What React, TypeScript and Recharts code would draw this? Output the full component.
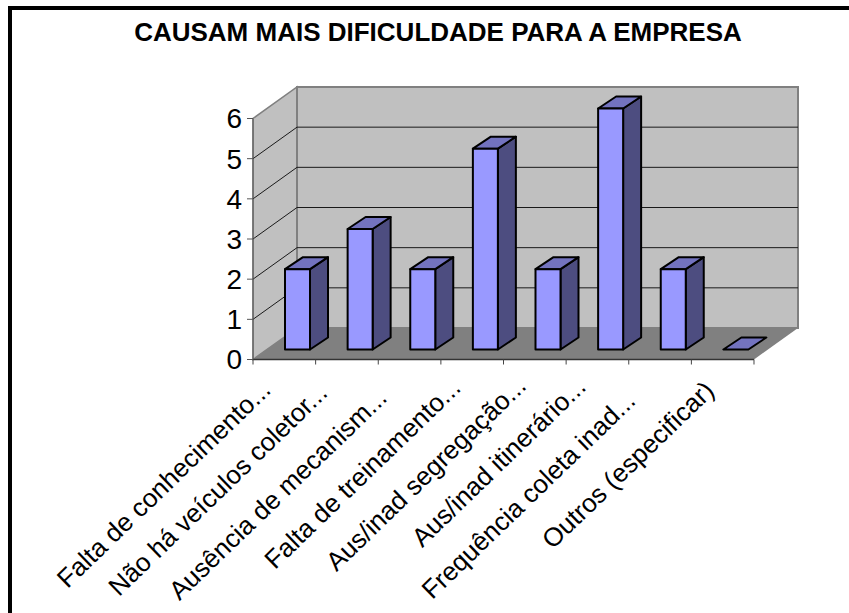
import React from 'react';
import { BarChart, Bar, XAxis, YAxis, CartesianGrid } from 'recharts';

const categories = [
  'Falta de conhecimento...',
  'Não há veículos coletor...',
  'Ausência de mecanism...',
  'Falta de treinamento...',
  'Aus/inad segregação...',
  'Aus/inad itinerário...',
  'Frequência coleta inad...',
  'Outros (especificar)',
];
const values = [2, 3, 2, 5, 2, 6, 2, 0];
const yTicks = [0, 1, 2, 3, 4, 5, 6];
const title = 'CAUSAM MAIS DIFICULDADE PARA A EMPRESA';

const rows = categories.map((name, i) => ({ name, value: values[i] }));

const W = 849, H = 613;
const DX = 44, DY = 31.5; // wall depth
const BDX = 18, BDY = 12; // bar depth
const SX = 13, SY = 10; // bar offset into the floor
const BAND = 62.6;
const TOP = 118.5, BOTTOM = 359.5;
// per-label placement tweaks, the source chart spaced its slanted labels unevenly
const labelShiftX = [-1, -7, -10, 1, 4, 1, -12, 4];
const labelShiftY = [3, 6, 11, 1, -1, 0, 14, 4];

function GridLine(props: any) {
  const { x1, x2, y1, index } = props;
  const l = x1, r = x2, t = TOP, b = BOTTOM;
  return (
    <g>
      {index === 0 && (
        <g>
          <polygon points={`${l},${b} ${l + DX},${b - DY} ${l + DX},${t - DY} ${l},${t}`} fill="#c0c0c0" stroke="#808080" strokeWidth={1.5} />
          <polygon points={`${l + DX},${b - DY} ${r + DX},${b - DY} ${r + DX},${t - DY} ${l + DX},${t - DY}`} fill="#c0c0c0" stroke="#808080" strokeWidth={2} />
          <polygon points={`${l},${b} ${r},${b} ${r + DX},${b - DY} ${l + DX},${b - DY}`} fill="#808080" />
        </g>
      )}
      {y1 < b - 2 && y1 > t + 2 && (
        <polyline points={`${l},${y1} ${l + DX},${y1 - DY} ${r + DX},${y1 - DY}`} fill="none" stroke="#1a1a1a" strokeWidth={1} />
      )}
    </g>
  );
}

function Box(props: any) {
  const { x, y, width, height } = props;
  const l = x + SX, r = l + width, t = y - SY, b = t + height;
  const st = { stroke: '#000', strokeWidth: 2, strokeLinejoin: 'round' as const };
  return (
    <g>
      {height > 0 && <polygon points={`${r},${b} ${r + BDX},${b - BDY} ${r + BDX},${t - BDY} ${r},${t}`} fill="#4d4d80" {...st} />}
      <polygon points={`${l},${t} ${r},${t} ${r + BDX},${t - BDY} ${l + BDX},${t - BDY}`} fill="#7373bf" {...st} />
      {height > 0 && <rect x={l} y={t} width={width} height={height} fill="#9999ff" {...st} />}
    </g>
  );
}

function XTick(props: any) {
  const { x, y, payload, index } = props;
  const lx = x - 11 + labelShiftX[index], ly = y + 21 + labelShiftY[index];
  return (
    <g>
      <line x1={x - BAND / 2} x2={x - BAND / 2} y1={y - 8} y2={y - 3} stroke="#444" />
      {index === categories.length - 1 && <line x1={x + BAND / 2} x2={x + BAND / 2} y1={y - 8} y2={y - 3} stroke="#444" />}
      <text x={lx} y={ly} textAnchor="end" transform={`rotate(-44 ${lx} ${ly})`} fontFamily="Liberation Sans" fontSize={26} fill="#000">
        {payload.value}
      </text>
    </g>
  );
}

export default function App() {
  return (
    <div style={{ position: 'absolute', left: 0, top: 0, width: W, height: H }}>
      <BarChart width={W} height={H} data={rows} barCategoryGap={0} margin={{ top: TOP, right: 95, bottom: 0, left: 0 }}>
        <rect x={10} y={8} width={860} height={H + 10} fill="none" stroke="#000" strokeWidth={4} />
        <text x={438} y={41} textAnchor="middle" fontFamily="Liberation Sans" fontWeight="bold" fontSize={26} fill="#000">{title}</text>
        <CartesianGrid vertical={false} horizontal={(p: any) => <GridLine {...p} />} />
        <XAxis dataKey="name" interval={0} height={H - BOTTOM} tick={<XTick />} tickLine={false} axisLine={{ stroke: '#333', strokeWidth: 1.5 }} />
        <YAxis domain={[0, 6]} ticks={yTicks} width={253} tickSize={6} tickMargin={5} tick={{ fontFamily: 'Liberation Sans', fontSize: 28, fill: '#000' }} stroke="#555" interval={0} />
        <Bar dataKey="value" barSize={25} isAnimationActive={false} shape={<Box />} />
      </BarChart>
    </div>
  );
}
